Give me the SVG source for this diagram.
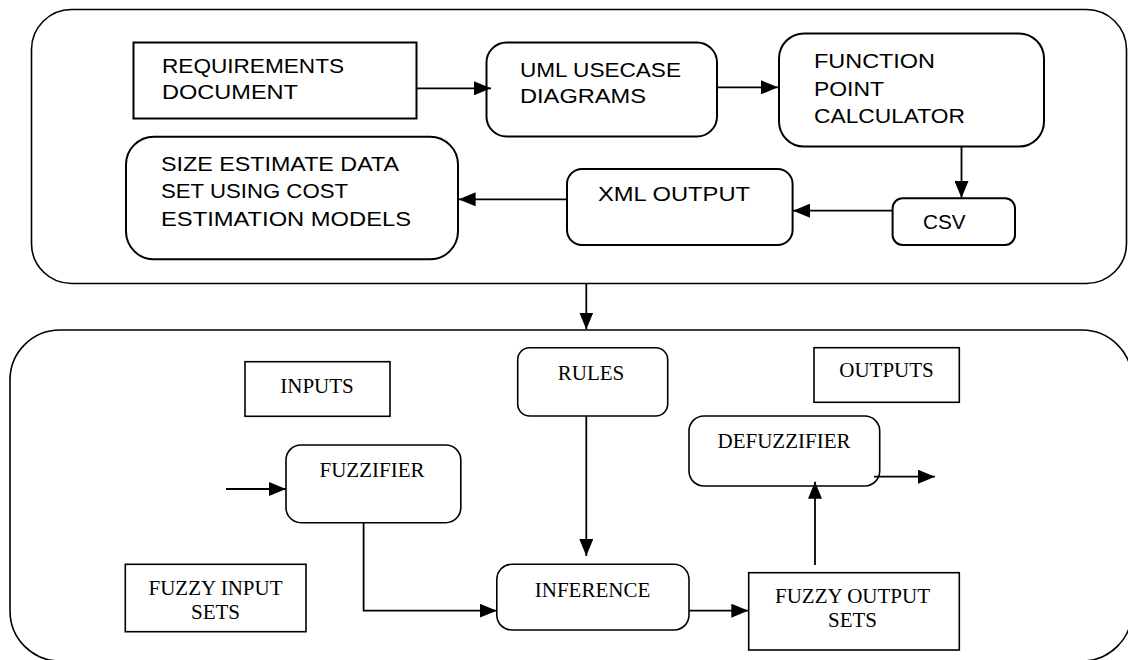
<svg xmlns="http://www.w3.org/2000/svg" width="1128" height="660" viewBox="0 0 1128 660">
<style>
.box{fill:#fff;stroke:#000;stroke-width:2}
.box2{fill:#fff;stroke:#000;stroke-width:1.6}
.cont{fill:none;stroke:#000;stroke-width:1.6}
.s{font-family:"Liberation Sans",Arial,sans-serif;font-size:20px;fill:#000}
.t{font-family:"Liberation Serif","Times New Roman",serif;font-size:21px;fill:#000;text-anchor:middle}
.c{fill:none;stroke:#000;stroke-width:1.8}
</style>
<defs>
<marker id="ah" markerUnits="userSpaceOnUse" markerWidth="17" markerHeight="14" refX="17" refY="7" orient="auto">
<path d="M0,0 L17,7 L0,14 z" fill="#000"/>
</marker>
</defs>
<rect id="top-container" class="cont" x="31.5" y="9.5" width="1095" height="274" rx="40"/>
<rect id="bottom-container" class="cont" x="10" y="330" width="1122" height="331" rx="50"/>
<g id="requirements">
<rect class="box" x="133.5" y="42.5" width="283" height="76"/>
<text class="s" x="162" y="72.5" textLength="182" lengthAdjust="spacingAndGlyphs">REQUIREMENTS</text>
<text class="s" x="162" y="99" textLength="136" lengthAdjust="spacingAndGlyphs">DOCUMENT</text>
</g>
<g id="uml">
<rect class="box" x="486.5" y="42.5" width="230.5" height="94" rx="20"/>
<text class="s" x="520" y="76.7" textLength="161" lengthAdjust="spacingAndGlyphs">UML USECASE</text>
<text class="s" x="520" y="102.7" textLength="126" lengthAdjust="spacingAndGlyphs">DIAGRAMS</text>
</g>
<g id="fpc">
<rect class="box" x="779" y="33.5" width="265" height="113" rx="25"/>
<text class="s" x="814" y="67.7" textLength="121" lengthAdjust="spacingAndGlyphs">FUNCTION</text>
<text class="s" x="814" y="95.7" textLength="70" lengthAdjust="spacingAndGlyphs">POINT</text>
<text class="s" x="814" y="123.3" textLength="151" lengthAdjust="spacingAndGlyphs">CALCULATOR</text>
</g>
<g id="size-estimate">
<rect class="box" x="126" y="136.7" width="332" height="122.6" rx="28"/>
<text class="s" x="161" y="170.7" textLength="238" lengthAdjust="spacingAndGlyphs">SIZE ESTIMATE DATA</text>
<text class="s" x="161" y="198.3" textLength="187" lengthAdjust="spacingAndGlyphs">SET USING COST</text>
<text class="s" x="161" y="226" textLength="250" lengthAdjust="spacingAndGlyphs">ESTIMATION MODELS</text>
</g>
<g id="xml-output">
<rect class="box" x="567" y="169" width="225.6" height="76" rx="15"/>
<text class="s" x="598" y="201" textLength="152" lengthAdjust="spacingAndGlyphs">XML OUTPUT</text>
</g>
<g id="csv">
<rect class="box" x="892.6" y="198.3" width="122.4" height="46.7" rx="10"/>
<text class="s" x="923" y="229.3" textLength="42.6" lengthAdjust="spacingAndGlyphs">CSV</text>
</g>
<g id="inputs">
<rect class="box2" x="245" y="361.7" width="145" height="54.6"/>
<text class="t" x="317" y="392.7">INPUTS</text>
</g>
<g id="rules">
<rect class="box2" x="517.7" y="347.7" width="150" height="68.3" rx="12"/>
<text class="t" x="591" y="380">RULES</text>
</g>
<g id="outputs">
<rect class="box2" x="814" y="347.7" width="145.3" height="54.6"/>
<text class="t" x="886.5" y="377.3">OUTPUTS</text>
</g>
<g id="fuzzifier">
<rect class="box2" x="286" y="445" width="174.8" height="77.7" rx="15"/>
<text class="t" x="372" y="476.7">FUZZIFIER</text>
</g>
<g id="defuzzifier">
<rect class="box2" x="689" y="416" width="190.7" height="70" rx="15"/>
<text class="t" x="784" y="447.7">DEFUZZIFIER</text>
</g>
<g id="fuzzy-input-sets">
<rect class="box2" x="125.3" y="564.3" width="180.7" height="67.4"/>
<text class="t" x="215.5" y="595">FUZZY INPUT</text>
<text class="t" x="215.5" y="619.3">SETS</text>
</g>
<g id="inference">
<rect class="box2" x="496.8" y="564.3" width="192.2" height="65.7" rx="15"/>
<text class="t" x="592.5" y="596.7">INFERENCE</text>
</g>
<g id="fuzzy-output-sets">
<rect class="box2" x="748.7" y="572.7" width="210.6" height="77.3"/>
<text class="t" x="852.5" y="602.7">FUZZY OUTPUT</text>
<text class="t" x="852.5" y="626.7">SETS</text>
</g>
<g id="connectors">
<line class="c" x1="417" y1="88.3" x2="491" y2="88.3" marker-end="url(#ah)"/>
<line class="c" x1="717" y1="87.3" x2="778" y2="87.3" marker-end="url(#ah)"/>
<line class="c" x1="961.5" y1="146.7" x2="961.5" y2="198" stroke-width="3" marker-end="url(#ah)"/>
<line class="c" x1="892.6" y1="210.7" x2="793" y2="210.7" marker-end="url(#ah)"/>
<line class="c" x1="567" y1="199.3" x2="458.6" y2="199.3" marker-end="url(#ah)"/>
<line class="c" x1="586.3" y1="283.3" x2="586.3" y2="329.5" marker-end="url(#ah)"/>
<line class="c" x1="226" y1="489" x2="286" y2="489" marker-end="url(#ah)"/>
<polyline class="c" points="363.6,522.7 363.6,610.7 496.8,610.7" marker-end="url(#ah)"/>
<line class="c" x1="586.3" y1="416" x2="586.3" y2="556" marker-end="url(#ah)"/>
<line class="c" x1="689" y1="610.7" x2="748.3" y2="610.7" marker-end="url(#ah)"/>
<line class="c" x1="815" y1="565" x2="815" y2="481.7" marker-end="url(#ah)"/>
<line class="c" x1="874" y1="476.7" x2="935" y2="476.7" marker-end="url(#ah)"/>
</g>
</svg>
